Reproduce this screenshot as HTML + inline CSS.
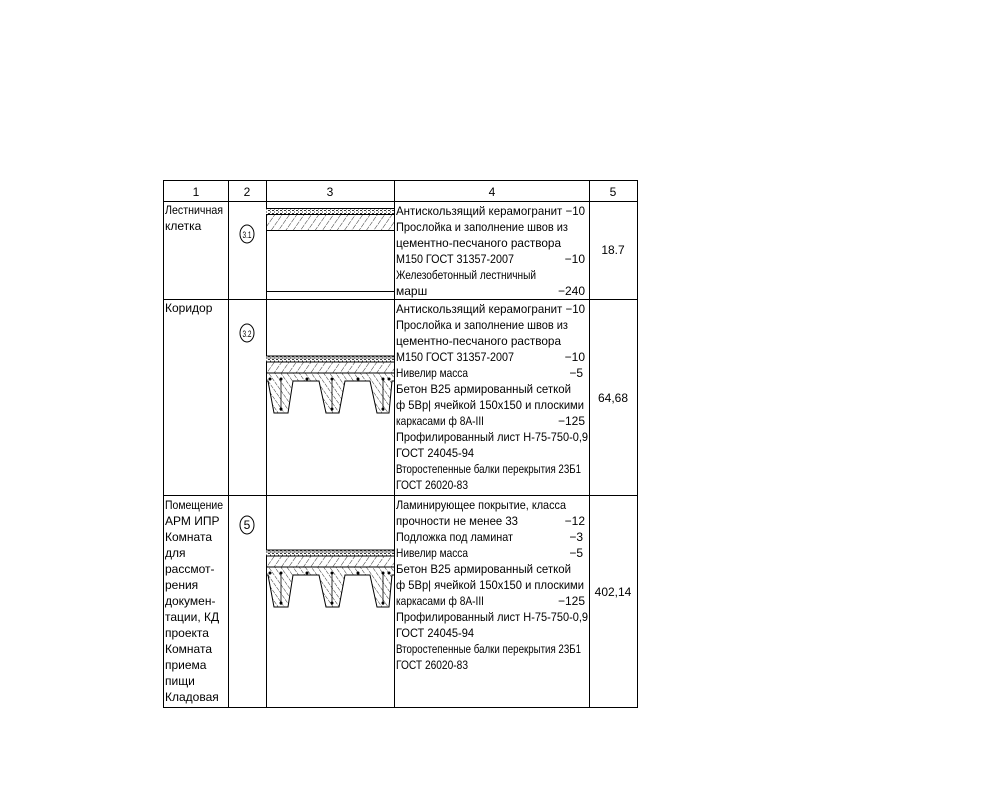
<!DOCTYPE html>
<html><head><meta charset="utf-8"><style>
html,body{margin:0;padding:0;background:#fff;}
svg{display:block;}
text{font-family:"Liberation Sans Narrow","Liberation Sans",sans-serif;font-size:12px;fill:#000;}
</style></head><body>
<svg width="1004" height="811" viewBox="0 0 1004 811" xmlns="http://www.w3.org/2000/svg">
<defs>
<pattern id="h" width="5" height="5" patternUnits="userSpaceOnUse" patternTransform="rotate(-35)">
<line x1="0" y1="0" x2="0" y2="5" stroke="#000" stroke-width="0.8" stroke-dasharray="3,1"/>
</pattern>
<pattern id="h2" width="6" height="6" patternUnits="userSpaceOnUse" patternTransform="rotate(35)">
<line x1="0" y1="0" x2="0" y2="6" stroke="#000" stroke-width="0.8" stroke-dasharray="3,1"/>
</pattern>
<pattern id="d" width="4" height="3" patternUnits="userSpaceOnUse">
<rect width="4" height="3" fill="#fff"/><rect x="0" y="0" width="2" height="1" fill="#333"/><rect x="2" y="1.5" width="1" height="1" fill="#333"/>
</pattern>
<g id="deck">
<rect x="266" y="0" width="128" height="6" fill="url(#d)"/>
<line x1="266" y1="0" x2="394" y2="0" stroke="#000"/>
<line x1="266" y1="2" x2="394" y2="2" stroke="#000" stroke-width="0.6"/>
<line x1="266" y1="6" x2="394" y2="6" stroke="#000"/>
<rect x="266" y="6" width="128" height="11" fill="url(#h2)"/>
<line x1="266" y1="17" x2="394" y2="17" stroke="#000"/>
<path d="M266 17 H394 V25 H392 L389 57 H377 L370 25 H345 L339 57 H326 L319 25 H293 L288 57 H274 L268 25 H266 Z" fill="url(#h)" stroke="none"/>
<path d="M266 25 H268 L274 57 H288 L293 25 H319 L326 57 H339 L345 25 H370 L377 57 H389 L392 25 H394" fill="none" stroke="#000" stroke-width="1"/>
<g stroke="#000" stroke-width="0.8"><line x1="281" y1="23" x2="281" y2="55"/><line x1="332" y1="23" x2="332" y2="55"/><line x1="383" y1="23" x2="383" y2="55"/></g>
<g fill="#000"><circle cx="270" cy="23" r="1.5"/><circle cx="281" cy="23" r="1.5"/><circle cx="307" cy="23" r="1.5"/><circle cx="332" cy="23" r="1.5"/><circle cx="358" cy="23" r="1.5"/><circle cx="383" cy="23" r="1.5"/><circle cx="389" cy="23" r="1.5"/><circle cx="281" cy="53" r="1.5"/><circle cx="332" cy="53" r="1.5"/><circle cx="383" cy="53" r="1.5"/></g>
</g>
</defs>
<g stroke="#000" stroke-width="1" fill="none">
<rect x="163.5" y="180.5" width="474" height="527"/>
<line x1="163" y1="201.5" x2="638" y2="201.5"/>
<line x1="163" y1="299.5" x2="638" y2="299.5"/>
<line x1="163" y1="495.5" x2="638" y2="495.5"/>
<line x1="228.5" y1="180" x2="228.5" y2="708"/>
<line x1="266.5" y1="180" x2="266.5" y2="708"/>
<line x1="394.5" y1="180" x2="394.5" y2="708"/>
<line x1="589.5" y1="180" x2="589.5" y2="708"/>
</g>
<g text-anchor="middle"><text x="196" y="196">1</text><text x="247" y="196">2</text><text x="330" y="196">3</text><text x="492" y="196">4</text><text x="613" y="196">5</text></g>
<rect x="266" y="208" width="128" height="6" fill="url(#d)"/>
<line x1="266" y1="208.5" x2="394" y2="208.5" stroke="#000"/>
<line x1="266" y1="214.5" x2="394" y2="214.5" stroke="#000"/>
<rect x="266" y="215" width="128" height="15" fill="url(#h2)"/>
<line x1="266" y1="230.5" x2="394" y2="230.5" stroke="#000"/>
<line x1="266" y1="291.5" x2="394" y2="291.5" stroke="#000"/>
<use href="#deck" transform="translate(0,356)"/>
<use href="#deck" transform="translate(0,550)"/>
<g fill="none" stroke="#000"><ellipse cx="247" cy="234" rx="7" ry="9"/><ellipse cx="247" cy="333" rx="7" ry="9"/><ellipse cx="247" cy="525" rx="7" ry="9"/></g>
<g text-anchor="middle"><text x="247" y="238" style="font-size:9px" textLength="9" lengthAdjust="spacingAndGlyphs">3.1</text><text x="247" y="337" style="font-size:9px" textLength="9" lengthAdjust="spacingAndGlyphs">3.2</text><text x="247" y="529">5</text></g>
<g lengthAdjust="spacingAndGlyphs">
<text x="165" y="214" textLength="58" lengthAdjust="spacingAndGlyphs">Лестничная</text><text x="165" y="230">клетка</text>
<text x="165" y="312">Коридор</text>
<text x="165" y="509" textLength="58" lengthAdjust="spacingAndGlyphs">Помещение</text><text x="165" y="525">АРМ ИПР</text><text x="165" y="541">Комната</text><text x="165" y="557">для</text><text x="165" y="573">рассмот-</text><text x="165" y="589">рения</text><text x="165" y="605">докумен-</text><text x="165" y="621">тации, КД</text><text x="165" y="637">проекта</text><text x="165" y="653">Комната</text><text x="165" y="669">приема</text><text x="165" y="685">пищи</text><text x="165" y="701">Кладовая</text>
</g>
<g text-anchor="middle"><text x="613" y="254">18.7</text><text x="613" y="402">64,68</text><text x="613" y="596">402,14</text></g>
<text x="396" y="215" textLength="189" lengthAdjust="spacingAndGlyphs">Антискользящий керамогранит −10</text>
<text x="396" y="231" textLength="172" lengthAdjust="spacingAndGlyphs">Прослойка и заполнение швов из</text>
<text x="396" y="247" textLength="165" lengthAdjust="spacingAndGlyphs">цементно-песчаного раствора</text>
<text x="396" y="263" textLength="118" lengthAdjust="spacingAndGlyphs">М150 ГОСТ 31357-2007</text><text x="585" y="263" text-anchor="end">−10</text>
<text x="396" y="279" textLength="140" lengthAdjust="spacingAndGlyphs">Железобетонный лестничный</text>
<text x="396" y="295">марш</text><text x="585" y="295" text-anchor="end">−240</text>
<text x="396" y="313" textLength="189" lengthAdjust="spacingAndGlyphs">Антискользящий керамогранит −10</text>
<text x="396" y="329" textLength="172" lengthAdjust="spacingAndGlyphs">Прослойка и заполнение швов из</text>
<text x="396" y="345" textLength="165" lengthAdjust="spacingAndGlyphs">цементно-песчаного раствора</text>
<text x="396" y="361" textLength="118" lengthAdjust="spacingAndGlyphs">М150 ГОСТ 31357-2007</text><text x="585" y="361" text-anchor="end">−10</text>
<text x="396" y="377" textLength="72" lengthAdjust="spacingAndGlyphs">Нивелир масса</text><text x="583" y="377" text-anchor="end">−5</text>
<text x="396" y="393" textLength="175" lengthAdjust="spacingAndGlyphs">Бетон В25 армированный сеткой</text>
<text x="396" y="409" textLength="188" lengthAdjust="spacingAndGlyphs">ф 5Вр| ячейкой 150х150 и плоскими</text>
<text x="396" y="425" textLength="88" lengthAdjust="spacingAndGlyphs">каркасами ф 8А-III</text><text x="585" y="425" text-anchor="end">−125</text>
<text x="396" y="441" textLength="192" lengthAdjust="spacingAndGlyphs">Профилированный лист Н-75-750-0,9</text>
<text x="396" y="457" textLength="78" lengthAdjust="spacingAndGlyphs">ГОСТ 24045-94</text>
<text x="396" y="473" textLength="185" lengthAdjust="spacingAndGlyphs">Второстепенные балки перекрытия 23Б1</text>
<text x="396" y="489" textLength="72" lengthAdjust="spacingAndGlyphs">ГОСТ 26020-83</text>
<text x="396" y="509" textLength="170" lengthAdjust="spacingAndGlyphs">Ламинирующее покрытие, класса</text>
<text x="396" y="525" textLength="122" lengthAdjust="spacingAndGlyphs">прочности не менее 33</text><text x="585" y="525" text-anchor="end">−12</text>
<text x="396" y="541" textLength="117" lengthAdjust="spacingAndGlyphs">Подложка под ламинат</text><text x="583" y="541" text-anchor="end">−3</text>
<text x="396" y="557" textLength="72" lengthAdjust="spacingAndGlyphs">Нивелир масса</text><text x="583" y="557" text-anchor="end">−5</text>
<text x="396" y="573" textLength="175" lengthAdjust="spacingAndGlyphs">Бетон В25 армированный сеткой</text>
<text x="396" y="589" textLength="188" lengthAdjust="spacingAndGlyphs">ф 5Вр| ячейкой 150х150 и плоскими</text>
<text x="396" y="605" textLength="88" lengthAdjust="spacingAndGlyphs">каркасами ф 8А-III</text><text x="585" y="605" text-anchor="end">−125</text>
<text x="396" y="621" textLength="192" lengthAdjust="spacingAndGlyphs">Профилированный лист Н-75-750-0,9</text>
<text x="396" y="637" textLength="78" lengthAdjust="spacingAndGlyphs">ГОСТ 24045-94</text>
<text x="396" y="653" textLength="185" lengthAdjust="spacingAndGlyphs">Второстепенные балки перекрытия 23Б1</text>
<text x="396" y="669" textLength="72" lengthAdjust="spacingAndGlyphs">ГОСТ 26020-83</text>
</svg>
</body></html>
